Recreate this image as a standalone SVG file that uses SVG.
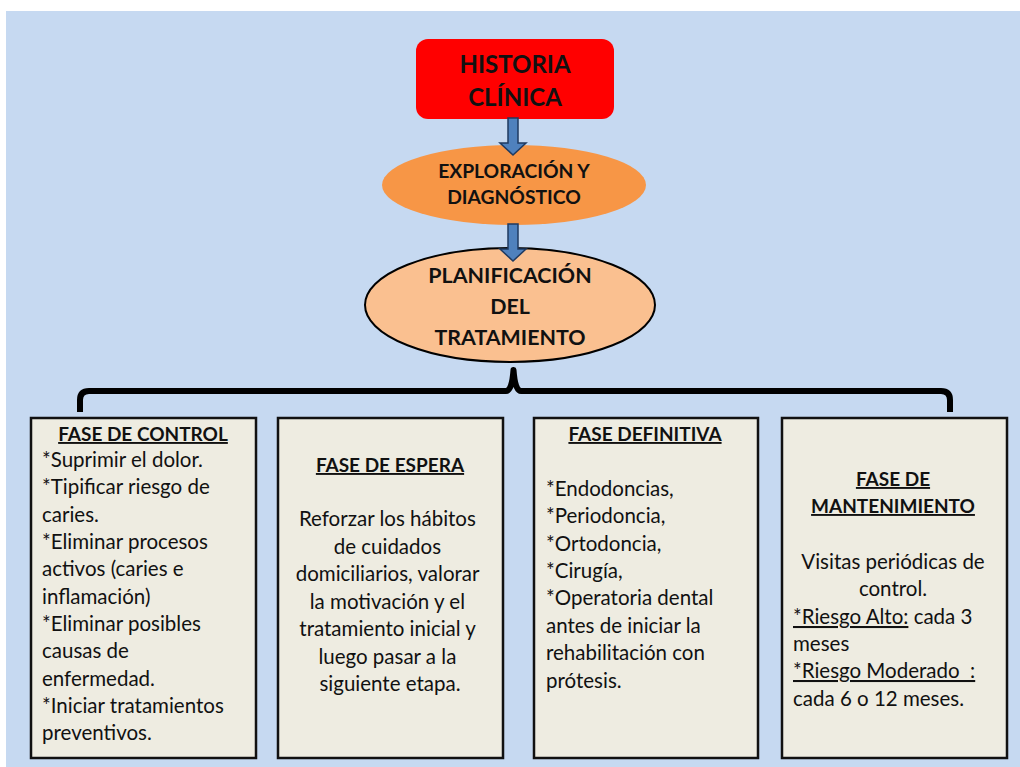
<svg xmlns="http://www.w3.org/2000/svg" width="1020" height="767" viewBox="0 0 1020 767">
<style>
.t{font-family:Lato,"Open Sans","Liberation Sans",sans-serif;fill:#111}
.hd{font-weight:bold;text-anchor:middle}
.bx{fill:#EEECE1;stroke:#111;stroke-width:2.5}
.b{font-size:20.5px}
.bt{font-size:19px;font-weight:bold;text-decoration:underline}
.c{text-anchor:middle}
.arr{fill:#4F81BD;stroke:#1F3A60;stroke-width:1.5}
</style>
<defs>
<path id="arrow" d="M-5,0 L5,0 L5,25 L13,25 L0,37 L-13,25 L-5,25 Z"/>
</defs>
<rect x="0" y="0" width="1020" height="767" fill="#ffffff"/>
<rect x="6" y="11" width="1014" height="756" fill="#C6D9F1"/>

<g id="historia">
<rect x="416" y="39" width="198" height="80" rx="12" fill="#FF0000"/>
<text class="t hd" x="515" y="73" font-size="24">HISTORIA</text>
<text class="t hd" x="515" y="106" font-size="24">CLÍNICA</text>
</g>

<g id="exploracion">
<ellipse cx="514" cy="185" rx="132" ry="40" fill="#F79646"/>
<text class="t hd" x="514" y="178" font-size="19.3">EXPLORACIÓN Y</text>
<text class="t hd" x="514" y="204" font-size="19.3">DIAGNÓSTICO</text>
</g>

<g id="planificacion">
<ellipse cx="510" cy="305" rx="145" ry="57" fill="#FAC090" stroke="#000" stroke-width="2"/>
<text class="t hd" x="510" y="283" font-size="21.4">PLANIFICACIÓN</text>
<text class="t hd" x="510" y="314" font-size="21.4">DEL</text>
<text class="t hd" x="510" y="345" font-size="21.4">TRATAMIENTO</text>
</g>

<g id="fase-control">
<rect class="bx" x="31" y="418" width="225" height="340"/>
<text class="t bt c" x="143" y="441">FASE DE CONTROL</text>
<text class="t b" x="42">
<tspan x="42" y="467">*Suprimir el dolor.</tspan>
<tspan x="42" y="494">*Tipificar riesgo de</tspan>
<tspan x="42" y="522">caries.</tspan>
<tspan x="42" y="549">*Eliminar procesos</tspan>
<tspan x="42" y="576">activos (caries e</tspan>
<tspan x="42" y="604">inflamación)</tspan>
<tspan x="42" y="631">*Eliminar posibles</tspan>
<tspan x="42" y="658">causas de</tspan>
<tspan x="42" y="686">enfermedad.</tspan>
<tspan x="42" y="713">*Iniciar tratamientos</tspan>
<tspan x="42" y="740">preventivos.</tspan>
</text>
</g>

<g id="fase-espera">
<rect class="bx" x="278" y="418" width="225" height="340"/>
<text class="t bt c" x="390" y="472">FASE DE ESPERA</text>
<text class="t b c">
<tspan x="390" y="526">Reforzar los hábitos</tspan>
<tspan x="390" y="554">de cuidados</tspan>
<tspan x="390" y="581">domiciliarios, valorar</tspan>
<tspan x="390" y="609">la motivación y el</tspan>
<tspan x="390" y="636">tratamiento inicial y</tspan>
<tspan x="390" y="664">luego pasar a la</tspan>
<tspan x="390" y="691">siguiente etapa.</tspan>
</text>
</g>

<g id="fase-definitiva">
<rect class="bx" x="534" y="418" width="224" height="340"/>
<text class="t bt c" x="645" y="441">FASE DEFINITIVA</text>
<text class="t b">
<tspan x="546" y="496">*Endodoncias,</tspan>
<tspan x="546" y="523">*Periodoncia,</tspan>
<tspan x="546" y="551">*Ortodoncia,</tspan>
<tspan x="546" y="578">*Cirugía,</tspan>
<tspan x="546" y="605">*Operatoria dental</tspan>
<tspan x="546" y="633">antes de iniciar la</tspan>
<tspan x="546" y="660">rehabilitación con</tspan>
<tspan x="546" y="688">prótesis.</tspan>
</text>
</g>

<g id="fase-mantenimiento">
<rect class="bx" x="782" y="418" width="225" height="340"/>
<text class="t bt c" x="893" y="486">FASE DE</text>
<text class="t bt c" x="893" y="513">MANTENIMIENTO</text>
<text class="t b c" x="893" y="569">Visitas periódicas de</text>
<text class="t b c" x="893" y="596">control.</text>
<text class="t b" x="793" y="624"><tspan text-decoration="underline">*Riesgo Alto:</tspan> cada 3</text>
<text class="t b" x="793" y="651">meses</text>
<text class="t b" x="793" y="678" text-decoration="underline" style="white-space:pre">*Riesgo Moderado  :</text>
<text class="t b" x="793" y="706">cada 6 o 12 meses.</text>
</g>

<g id="connectors">
<use href="#arrow" class="arr" x="513" y="118"/>
<use href="#arrow" class="arr" x="513" y="224"/>
<path d="M80,412 L80,400 Q80,391 89,391 L506,391 Q512,391 513.5,370 Q515,391 521,391 L941,391 Q950,391 950,400 L950,412" fill="none" stroke="#000" stroke-width="6" stroke-linejoin="round"/>
</g>
</svg>
